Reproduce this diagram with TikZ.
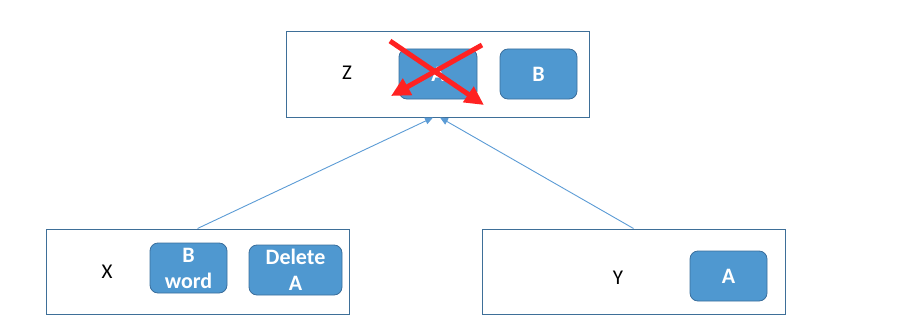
\documentclass[tikz,border=0pt]{standalone}
\usepackage{fontspec}
\setmainfont{Carlito}
\usetikzlibrary{arrows.meta}
\definecolor{boxfill}{HTML}{4F98D0}
\definecolor{boxedge}{HTML}{3A6E9C}
\definecolor{outeredge}{HTML}{3E6F98}
\definecolor{linkblue}{HTML}{5B9BD5}
\definecolor{crossred}{HTML}{FF2222}
\tikzset{
  outer/.style={draw=outeredge, line width=1pt, minimum width=303pt, minimum height=85pt, inner sep=0pt},
  item/.style={draw=boxedge, line width=0.8pt, fill=boxfill, rounded corners=8pt, text=white,
    font=\fontsize{22}{26}\selectfont\bfseries, align=center, inner sep=0pt, minimum height=50pt},
  lbl/.style={font=\fontsize{21}{24}\selectfont, text=black, inner sep=0pt},
  link/.style={draw=linkblue, line width=0.9pt, -{Triangle[length=8pt,width=7pt]}},
  cross/.style={draw=crossred, line width=5pt, -{Triangle[length=19pt,width=18pt]}}
}
\begin{document}
\begin{tikzpicture}[x=1pt,y=-1pt]
\useasboundingbox (0,0) rectangle (907,329);
% top box
\node[outer] (Z) at (437.5,74.5) {};
\node[lbl] (zl) at (347,73) {Z};
\node[item, minimum width=78pt] (ZA) at (438,74) {A};
\node[item, minimum width=77pt] (ZB) at (538.5,74) {B};
% bottom left
\node[outer] (X) at (197.5,271.5) {};
\node[lbl] (xl) at (107,272) {X};
\node[item, minimum width=77pt] (XB) at (188.5,268) {B\\word};
\node[item, minimum width=93pt] (XD) at (295.5,270) {Delete\\A};
% bottom right
\node[outer] (Y) at (633.5,271.5) {};
\node[lbl] (yl) at (618,278) {Y};
\node[item, minimum width=77pt] (YA) at (728.5,276) {A};
% connectors
\coordinate (zinL) at ([xshift=-4.5pt]Z.south);
\coordinate (zinR) at ([xshift=2.5pt]Z.south);
\draw[link] (X.north) -- (zinL);
\draw[link] (Y.north) -- (zinR);
% red cross
\coordinate (c1s) at (390,41);
\coordinate (c1e) at (484,105);
\coordinate (c2s) at (482,45);
\coordinate (c2e) at (391,96);
\draw[cross] (c1s) -- (c1e);
\draw[cross] (c2s) -- (c2e);
\end{tikzpicture}
\end{document}
